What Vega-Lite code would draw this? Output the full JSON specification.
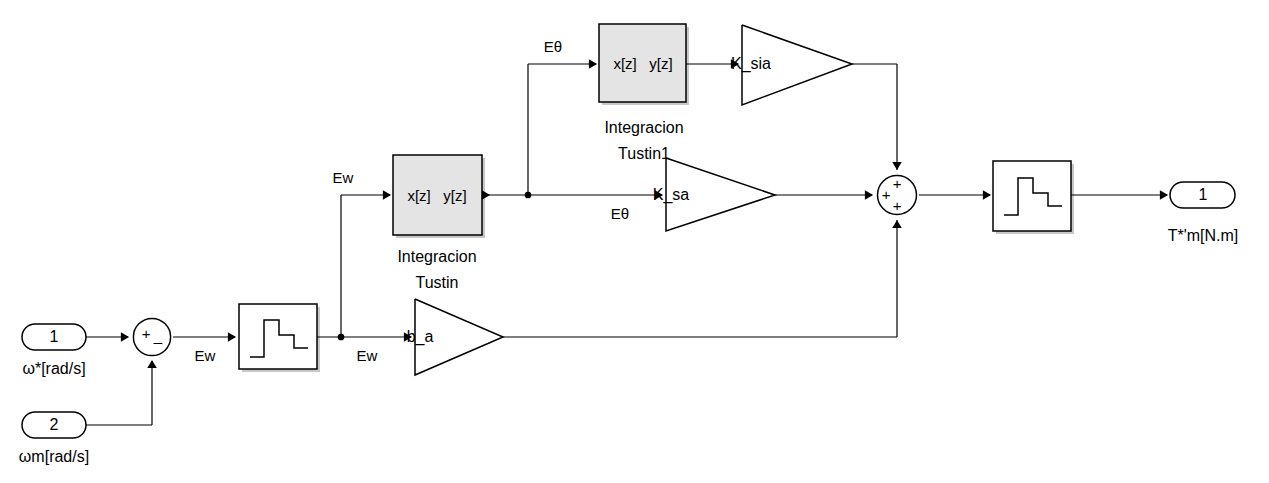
{
  "$schema": "https://vega.github.io/schema/vega-lite/v6.json",
  "width": 1269,
  "height": 483,
  "autosize": {"type": "none"},
  "padding": 0,
  "background": "white",
  "config": {"view": {"stroke": null}, "font": "Liberation Sans"},
  "datasets": {
    "blocks": [
      {"id": "zoh1", "x": 239, "x2": 317, "y": 304, "y2": 369, "fill": "white"},
      {"id": "int1", "x": 393, "x2": 482, "y": 155, "y2": 235, "fill": "#e4e4e4"},
      {"id": "int2", "x": 599, "x2": 686, "y": 24, "y2": 102, "fill": "#e4e4e4"},
      {"id": "zoh2", "x": 993, "x2": 1071, "y": 161, "y2": 231, "fill": "white"}
    ],
    "ports": [
      {"id": "in1", "x": 22, "x2": 86, "y": 324, "y2": 350},
      {"id": "in2", "x": 22, "x2": 86, "y": 412, "y2": 438},
      {"id": "out1", "x": 1170, "x2": 1235, "y": 182, "y2": 208}
    ],
    "wires": [
      {"x": 86, "y": 337, "x2": 128, "y2": 337},
      {"x": 86, "y": 425, "x2": 152, "y2": 425},
      {"x": 152, "y": 425, "x2": 152, "y2": 361},
      {"x": 173, "y": 337, "x2": 235, "y2": 337},
      {"x": 317, "y": 337, "x2": 411, "y2": 337},
      {"x": 341, "y": 337, "x2": 341, "y2": 195},
      {"x": 341, "y": 195, "x2": 390, "y2": 195},
      {"x": 482, "y": 195, "x2": 662, "y2": 195},
      {"x": 528, "y": 195, "x2": 528, "y2": 64},
      {"x": 528, "y": 64, "x2": 596, "y2": 64},
      {"x": 686, "y": 64, "x2": 738, "y2": 64},
      {"x": 852, "y": 64, "x2": 897, "y2": 64},
      {"x": 897, "y": 64, "x2": 897, "y2": 170},
      {"x": 775, "y": 195, "x2": 872, "y2": 195},
      {"x": 503, "y": 337, "x2": 897, "y2": 337},
      {"x": 897, "y": 337, "x2": 897, "y2": 220},
      {"x": 919, "y": 195, "x2": 990, "y2": 195},
      {"x": 1071, "y": 195, "x2": 1167, "y2": 195}
    ],
    "arrows": [
      {"x": 125, "y": 337, "dir": "right"},
      {"x": 152, "y": 364, "dir": "up"},
      {"x": 232, "y": 337, "dir": "right"},
      {"x": 408, "y": 337, "dir": "right"},
      {"x": 387, "y": 195, "dir": "right"},
      {"x": 659, "y": 195, "dir": "right"},
      {"x": 593, "y": 64, "dir": "right"},
      {"x": 735, "y": 64, "dir": "right"},
      {"x": 897, "y": 166, "dir": "down"},
      {"x": 869, "y": 195, "dir": "right"},
      {"x": 897, "y": 224, "dir": "up"},
      {"x": 987, "y": 195, "dir": "right"},
      {"x": 1164, "y": 195, "dir": "right"},
      {"x": 486, "y": 195, "dir": "right"}
    ],
    "dots": [
      {"x": 341, "y": 337},
      {"x": 528, "y": 195}
    ],
    "sums": [
      {"x": 152, "y": 337, "s": 1385},
      {"x": 897, "y": 195, "s": 1520}
    ],
    "polys": [
      {"g": "ksia", "i": 0, "x": 742, "y": 25},
      {"g": "ksia", "i": 1, "x": 852, "y": 64},
      {"g": "ksia", "i": 2, "x": 742, "y": 105},
      {"g": "ksia", "i": 3, "x": 742, "y": 25},
      {"g": "ksa", "i": 0, "x": 666, "y": 158},
      {"g": "ksa", "i": 1, "x": 775, "y": 195},
      {"g": "ksa", "i": 2, "x": 666, "y": 231},
      {"g": "ksa", "i": 3, "x": 666, "y": 158},
      {"g": "ba", "i": 0, "x": 415, "y": 299},
      {"g": "ba", "i": 1, "x": 503, "y": 337},
      {"g": "ba", "i": 2, "x": 415, "y": 375},
      {"g": "ba", "i": 3, "x": 415, "y": 299},
      {"g": "st1", "i": 0, "x": 250, "y": 357},
      {"g": "st1", "i": 1, "x": 264, "y": 357},
      {"g": "st1", "i": 2, "x": 264, "y": 320},
      {"g": "st1", "i": 3, "x": 279, "y": 320},
      {"g": "st1", "i": 4, "x": 279, "y": 335},
      {"g": "st1", "i": 5, "x": 294, "y": 335},
      {"g": "st1", "i": 6, "x": 294, "y": 348},
      {"g": "st1", "i": 7, "x": 308, "y": 348},
      {"g": "st2", "i": 0, "x": 1004, "y": 215},
      {"g": "st2", "i": 1, "x": 1018, "y": 215},
      {"g": "st2", "i": 2, "x": 1018, "y": 178},
      {"g": "st2", "i": 3, "x": 1033, "y": 178},
      {"g": "st2", "i": 4, "x": 1033, "y": 193},
      {"g": "st2", "i": 5, "x": 1048, "y": 193},
      {"g": "st2", "i": 6, "x": 1048, "y": 206},
      {"g": "st2", "i": 7, "x": 1062, "y": 206}
    ],
    "labels": [
      {"x": 54, "y": 337, "t": "1", "a": "center", "s": 16},
      {"x": 54, "y": 425, "t": "2", "a": "center", "s": 16},
      {"x": 1203, "y": 195, "t": "1", "a": "center", "s": 16},
      {"x": 54, "y": 369, "t": "ω*[rad/s]", "a": "center", "s": 16},
      {"x": 54, "y": 457, "t": "ωm[rad/s]", "a": "center", "s": 16},
      {"x": 1203, "y": 236, "t": "T*'m[N.m]", "a": "center", "s": 16},
      {"x": 146, "y": 334, "t": "+", "a": "center", "s": 15},
      {"x": 158, "y": 336, "t": "_", "a": "center", "s": 15},
      {"x": 897, "y": 184, "t": "+", "a": "center", "s": 15},
      {"x": 886, "y": 195, "t": "+", "a": "center", "s": 15},
      {"x": 897, "y": 206, "t": "+", "a": "center", "s": 15},
      {"x": 205, "y": 356, "t": "Ew", "a": "center", "s": 15},
      {"x": 367, "y": 356, "t": "Ew", "a": "center", "s": 15},
      {"x": 343, "y": 178, "t": "Ew", "a": "center", "s": 15},
      {"x": 620, "y": 214, "t": "Eθ", "a": "center", "s": 15},
      {"x": 553, "y": 47, "t": "Eθ", "a": "center", "s": 15},
      {"x": 437, "y": 196, "t": "x[z]\u00a0\u00a0\u00a0y[z]", "a": "center", "s": 15},
      {"x": 643, "y": 64, "t": "x[z]\u00a0\u00a0\u00a0y[z]", "a": "center", "s": 15},
      {"x": 437, "y": 257, "t": "Integracion", "a": "center", "s": 16},
      {"x": 437, "y": 283, "t": "Tustin", "a": "center", "s": 16},
      {"x": 644, "y": 128, "t": "Integracion", "a": "center", "s": 16},
      {"x": 644, "y": 154, "t": "Tustin1", "a": "center", "s": 16},
      {"x": 751, "y": 64, "t": "K_sia", "a": "left", "s": 16},
      {"x": 671, "y": 195, "t": "K_sa", "a": "left", "s": 16},
      {"x": 420, "y": 337, "t": "b_a", "a": "left", "s": 16}
    ]
  },
  "encoding": {},
  "layer": [
    {
      "data": {"name": "blocks"},
      "mark": {"type": "rect", "fill": "#c8c8c8", "xOffset": 3, "yOffset": 3, "x2Offset": 3, "y2Offset": 3},
      "encoding": {
        "x": {"field": "x", "type": "quantitative", "scale": {"domain": [0, 1269], "nice": false, "zero": false}, "axis": null},
        "x2": {"field": "x2"},
        "y": {"field": "y", "type": "quantitative", "scale": {"domain": [0, 483], "reverse": true, "nice": false, "zero": false}, "axis": null},
        "y2": {"field": "y2"}
      }
    },
    {
      "data": {"name": "blocks"},
      "mark": {"type": "rect", "stroke": "black", "strokeWidth": 1.5},
      "encoding": {
        "x": {"field": "x", "type": "quantitative"},
        "x2": {"field": "x2"},
        "y": {"field": "y", "type": "quantitative"},
        "y2": {"field": "y2"},
        "fill": {"field": "fill", "type": "nominal", "scale": null}
      }
    },
    {
      "data": {"name": "ports"},
      "mark": {"type": "rect", "fill": "white", "stroke": "black", "strokeWidth": 1.5, "cornerRadius": 13},
      "encoding": {
        "x": {"field": "x", "type": "quantitative"},
        "x2": {"field": "x2"},
        "y": {"field": "y", "type": "quantitative"},
        "y2": {"field": "y2"}
      }
    },
    {
      "data": {"name": "wires"},
      "mark": {"type": "rule", "color": "black", "strokeWidth": 1.2},
      "encoding": {
        "x": {"field": "x", "type": "quantitative"},
        "x2": {"field": "x2"},
        "y": {"field": "y", "type": "quantitative"},
        "y2": {"field": "y2"}
      }
    },
    {
      "data": {"name": "polys"},
      "mark": {"type": "line", "color": "black", "strokeWidth": 1.5, "strokeJoin": "miter"},
      "encoding": {
        "x": {"field": "x", "type": "quantitative"},
        "y": {"field": "y", "type": "quantitative"},
        "detail": {"field": "g"},
        "order": {"field": "i", "type": "quantitative"}
      }
    },
    {
      "data": {"name": "sums"},
      "mark": {"type": "point", "shape": "circle", "filled": true, "fill": "white", "stroke": "black", "strokeWidth": 1.5, "opacity": 1},
      "encoding": {
        "x": {"field": "x", "type": "quantitative"},
        "y": {"field": "y", "type": "quantitative"},
        "size": {"field": "s", "type": "quantitative", "scale": null}
      }
    },
    {
      "data": {"name": "arrows"},
      "mark": {"type": "point", "filled": true, "color": "black", "opacity": 1, "size": 90},
      "encoding": {
        "x": {"field": "x", "type": "quantitative"},
        "y": {"field": "y", "type": "quantitative"},
        "shape": {"field": "dir", "type": "nominal", "legend": null,
          "scale": {"domain": ["right", "up", "down"], "range": ["triangle-right", "triangle-up", "triangle-down"]}}
      }
    },
    {
      "data": {"name": "dots"},
      "mark": {"type": "point", "shape": "circle", "filled": true, "color": "black", "opacity": 1, "size": 45},
      "encoding": {
        "x": {"field": "x", "type": "quantitative"},
        "y": {"field": "y", "type": "quantitative"}
      }
    },
    {
      "data": {"name": "labels"},
      "mark": {"type": "text", "baseline": "middle", "color": "black"},
      "encoding": {
        "x": {"field": "x", "type": "quantitative"},
        "y": {"field": "y", "type": "quantitative"},
        "text": {"field": "t"},
        "align": {"field": "a", "type": "nominal", "scale": null},
        "size": {"field": "s", "type": "quantitative", "scale": null}
      }
    }
  ]
}
